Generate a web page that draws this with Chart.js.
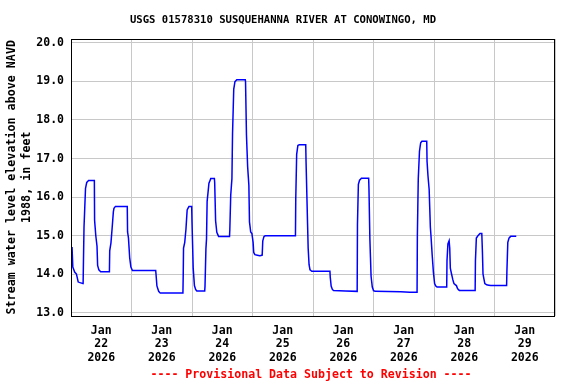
<!DOCTYPE html>
<html>
<head>
<meta charset="utf-8">
<script src="https://cdn.jsdelivr.net/npm/chart.js@4.4.1/dist/chart.umd.min.js"></script>
<style>
  html, body { margin: 0; padding: 0; background: #fff; }
  #wrap { width: 576px; height: 384px; }
</style>
</head>
<body>
<div id="wrap"><canvas id="myChart" width="576" height="384"></canvas></div>
<script>
// days since Jan 22 2026 00:00
const dayOffset = [
  0.017, 0.03, 0.06, 0.09, 0.12, 0.20, 0.215, 0.24, 0.26, 0.29,
  0.386, 0.39, 0.41, 0.43, 0.44, 0.46, 0.49, 0.635, 0.64, 0.66,
  0.68, 0.70, 0.71, 0.734, 0.93, 0.935, 0.95, 0.97, 0.99, 1.015,
  1.40, 1.405, 1.42, 1.45, 1.47, 1.85, 1.855, 1.86, 1.88, 1.90,
  1.92, 1.95, 1.995, 2.00, 2.02, 2.04, 2.06, 2.08, 2.21, 2.215,
  2.23, 2.24, 2.25, 2.28, 2.31, 2.37, 2.375, 2.39, 2.41, 2.44,
  2.62, 2.625, 2.64, 2.66, 2.67, 2.69, 2.71, 2.74, 2.88, 2.885,
  2.90, 2.92, 2.94, 2.95, 2.97, 2.99, 3.01, 3.02, 3.04, 3.12,
  3.16, 3.17, 3.19, 3.21, 3.71, 3.715, 3.73, 3.75, 3.78, 3.88,
  3.885, 3.90, 3.92, 3.935, 3.95, 3.98, 4.28, 4.285, 4.30, 4.32,
  4.34, 4.73, 4.735, 4.75, 4.77, 4.80, 4.92, 4.925, 4.94, 4.96,
  4.98, 5.00, 5.03, 5.45, 5.60, 5.72, 5.725, 5.74, 5.76, 5.78,
  5.80, 5.88, 5.885, 5.90, 5.92, 5.94, 5.95, 5.97, 5.99, 6.01,
  6.03, 6.05, 6.21, 6.215, 6.23, 6.25, 6.26, 6.27, 6.29, 6.31,
  6.33, 6.37, 6.39, 6.42, 6.68, 6.685, 6.70, 6.73, 6.76, 6.79,
  6.80, 6.81, 6.84, 6.87, 6.94, 7.20, 7.205, 7.22, 7.24, 7.27,
  7.36
];
// stream water level, feet above NAVD 1988
const waterLevel = [
  14.71, 14.19, 14.06, 14.01, 13.80, 13.76, 15.22, 16.23, 16.38, 16.43,
  16.43, 15.40, 15.00, 14.73, 14.23, 14.12, 14.07, 14.07, 14.61, 14.81,
  15.20, 15.62, 15.71, 15.76, 15.76, 15.10, 14.94, 14.43, 14.19, 14.10,
  14.10, 14.01, 13.70, 13.56, 13.52, 13.52, 14.00, 14.68, 14.83, 15.17,
  15.67, 15.76, 15.76, 15.36, 14.16, 13.71, 13.61, 13.57, 13.57, 13.69,
  14.66, 14.92, 15.89, 16.36, 16.48, 16.48, 16.38, 15.39, 15.09, 14.98,
  14.98, 15.15, 16.05, 16.48, 17.64, 18.80, 18.99, 19.04, 19.04, 18.99,
  17.62, 16.78, 16.31, 15.36, 15.10, 15.06, 14.83, 14.57, 14.51, 14.48,
  14.50, 14.87, 14.98, 15.00, 15.00, 15.95, 17.11, 17.34, 17.36, 17.36,
  16.93, 15.96, 14.68, 14.25, 14.12, 14.08, 14.08, 13.93, 13.70, 13.61,
  13.58, 13.56, 15.30, 16.33, 16.44, 16.49, 16.49, 16.22, 14.92, 13.95,
  13.67, 13.58, 13.56, 13.55, 13.54, 13.54, 15.00, 16.48, 17.19, 17.41,
  17.45, 17.45, 16.93, 16.56, 16.20, 15.22, 15.00, 14.50, 14.06, 13.76,
  13.70, 13.67, 13.67, 14.36, 14.79, 14.87, 14.68, 14.16, 14.01, 13.87,
  13.76, 13.71, 13.63, 13.58, 13.58, 14.36, 14.94, 15.01, 15.06, 15.06,
  14.60, 14.01, 13.76, 13.73, 13.71, 13.71, 14.08, 14.83, 14.94, 14.99,
  14.99
];
const dayLabels = ['22', '23', '24', '25', '26', '27', '28', '29'];
const yTicks = [13, 14, 15, 16, 17, 18, 19, 20];

const titleText = 'USGS 01578310 SUSQUEHANNA RIVER AT CONOWINGO, MD';
const footText = '---- Provisional Data Subject to Revision ----';
const mono = '"DejaVu Sans Mono", monospace';

const points = dayOffset.map((d, i) => ({x: d, y: waterLevel[i]}));

const usgsText = {
    id: 'usgsText',
    afterDraw(chart) {
        const ctx = chart.ctx;
        const a = chart.chartArea;
        ctx.save();
        // frame round the plot
        ctx.strokeStyle = '#000';
        ctx.lineWidth = 1;
        ctx.strokeRect(Math.round(a.left) + 0.5, Math.round(a.top) + 0.5,
            Math.round(a.right - a.left) - 1, Math.round(a.bottom - a.top));
        ctx.textAlign = 'center';
        ctx.textBaseline = 'middle';
        ctx.fillStyle = '#000';
        ctx.font = 'bold 10.6px ' + mono;
        ctx.fillText(titleText, 283, 20);
        ctx.fillStyle = '#ff0000';
        ctx.font = 'bold 11.6px ' + mono;
        ctx.fillText(footText, 311, 375);
        ctx.restore();
    }
};

const config = {
    type: 'line',
    data: {
        datasets: [{
            label: 'Water level',
            data: points,
            borderColor: '#0000ff',
            borderWidth: 1.5,
            pointRadius: 0,
            fill: false,
            // tiny tension so chart.js skips its per-pixel fast path (it leaves notches on the drops)
            tension: 0.0001
        }]
    },
    options: {
        responsive: false,
        animation: false,
        layout: {padding: {left: 0, top: 39, right: 21, bottom: 0}},
        plugins: {
            legend: {display: false},
            tooltip: {enabled: false}
        },
        scales: {
            x: {
                type: 'linear',
                min: 0,
                max: 8,
                afterBuildTicks: (scale) => {
                    const t = [];
                    for (let v = 0; v <= 8; v += 0.5) t.push({value: v});
                    scale.ticks = t;
                },
                afterFit: (scale) => { scale.height = 68.5; },
                grid: {
                    color: (c) => (c.tick && c.tick.value % 1 === 0) ? '#c8c8c8' : 'rgba(0,0,0,0)',
                    lineWidth: 1,
                    drawTicks: false
                },
                border: {display: false},
                ticks: {
                    autoSkip: false,
                    maxRotation: 0,
                    padding: 9,
                    color: '#000',
                    font: {family: mono, size: 11.5, weight: 'bold', lineHeight: 1.15},
                    callback: (v) => {
                        if (v % 1 !== 0.5) return '';
                        return ['Jan', dayLabels[Math.floor(v)], '2026'];
                    }
                }
            },
            y: {
                min: 12.935,
                max: 20.096,
                afterBuildTicks: (scale) => {
                    scale.ticks = yTicks.map(v => ({value: v}));
                },
                afterFit: (scale) => { scale.width = 71; },
                grid: {color: '#c8c8c8', lineWidth: 1, drawTicks: false},
                border: {display: false},
                ticks: {
                    padding: 7,
                    color: '#000',
                    font: {family: mono, size: 11.5, weight: 'bold'},
                    callback: (v) => v.toFixed(1)
                },
                title: {
                    display: true,
                    text: ['Stream water level elevation above NAVD', '1988, in feet'],
                    color: '#000',
                    font: {family: mono, size: 11.7, weight: 'bold', lineHeight: 1.3},
                    padding: {top: 4.5, bottom: 0}
                }
            }
        }
    },
    plugins: [usgsText]
};

const myChart = new Chart(document.getElementById('myChart'), config);
</script>
</body>
</html>
